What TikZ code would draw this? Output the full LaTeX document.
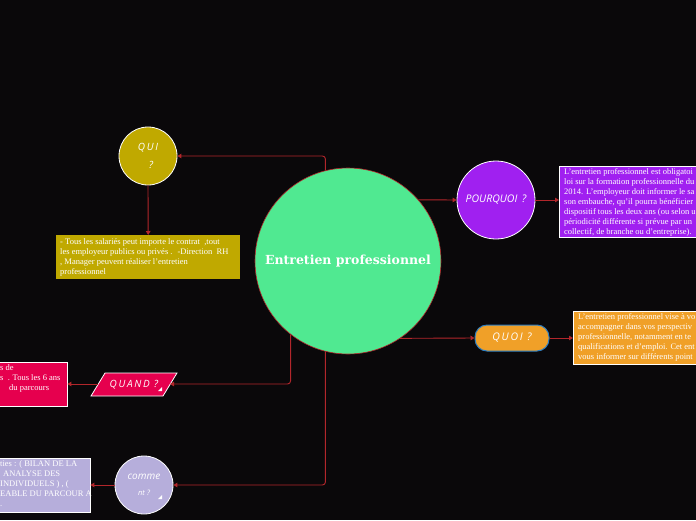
\documentclass[tikz,border=0pt]{standalone}
\usepackage{fontspec}
\setmainfont{Liberation Serif}
\newfontfamily\hand{Open Sans}
\newfontfamily\titlef{DejaVu Serif}
\usetikzlibrary{arrows.meta}
\definecolor{bg}{HTML}{0A080A}
\definecolor{linec}{HTML}{B2262B}
\definecolor{mint}{HTML}{50E991}
\definecolor{olive}{HTML}{C0A900}
\definecolor{violet}{HTML}{A020F0}
\definecolor{amber}{HTML}{F0A028}
\definecolor{crimson}{HTML}{E6004E}
\definecolor{lav}{HTML}{B6AEDB}
\definecolor{edgeblue}{HTML}{2C7CC0}
\begin{document}
\begin{tikzpicture}[x=1pt,y=-1pt,
  conn/.style={draw=linec, line width=0.9pt, rounded corners=3pt, -{Triangle[length=4pt,width=4.5pt]}},
  topic/.style={circle, draw=white, line width=0.8pt, inner sep=0pt, text=white, font=\hand\itshape\fontsize{10.5}{12}\selectfont, align=center},
  notebox/.style={rectangle, anchor=north west, inner sep=0pt},
  notetext/.style={anchor=north west, inner sep=0pt, text=white, align=left, font=\fontsize{8.5}{10}\selectfont}]
\useasboundingbox (0,0) rectangle (696,520);
\fill[bg] (0,0) rectangle (696,520);

% central node
\node[circle, fill=mint, draw=linec, line width=0.6pt, minimum size=186pt, inner sep=0pt,
      text=white, font=\titlef\bfseries\fontsize{12.5}{14}\selectfont] (center) at (348,261) {Entretien professionnel};

% topics
\node[topic, fill=olive, minimum size=58pt, font=\hand\itshape\fontsize{10}{18}\selectfont] (qui) at (148,156) {Q\,U\,I\\\hspace*{6pt}?};
\node[topic, fill=violet, minimum size=78pt] (pourquoi) at (496,200) {POURQUOI\, ?};
\node[rectangle, rounded corners=12pt, draw=edgeblue, line width=1pt, fill=amber, minimum width=74pt, minimum height=26pt,
      inner sep=0pt, text=white, font=\hand\itshape\fontsize{10.5}{12}\selectfont] (quoi) at (512,338) {Q\,U\,O\,I\, ?};
\node[topic, fill=lav, minimum size=58pt, font=\hand\itshape\fontsize{10}{16}\selectfont] (comme) at (144,485) {comme\\{\fontsize{7.5}{8}\selectfont nt ?}};
\fill[white] (158,499) -- (162,499) -- (162,495) -- cycle;

% QUAND parallelogram
\fill[crimson, draw=white, line width=0.8pt] (91,396) -- (105,373) -- (177,373) -- (163,396) -- cycle;
\node[inner sep=0pt, text=white, font=\hand\itshape\fontsize{10}{12}\selectfont] (quand) at (134,385) {Q\,U\,A\,N\,D\, ?};
\fill[white] (158,391) -- (162,391) -- (162,387) -- cycle;
\coordinate (quandR) at (170,384);
\coordinate (quandL) at (98,384);

% note boxes
\node[notebox, fill=olive, minimum width=184pt, minimum height=44pt] (quibox) at (56,235) {};
\node[notetext] at (60,238) {- Tous les salariés peut importe le contrat \ ,tout\\les employeur publics ou privés . \ -Direction \ RH\\, Manager peuvent réaliser l'entretien\\professionnel};

\node[notebox, fill=violet, draw=white, line width=0.4pt, minimum width=160pt, minimum height=71pt] (pqbox) at (559,166) {};
\node[notetext] at (564,168) {L'entretien professionnel est obligatoi\\loi sur la formation professionnelle du\\2014. L'employeur doit informer le sa\\son embauche, qu'il pourra bénéficier\\dispositif tous les deux ans (ou selon u\\périodicité différente si prévue par un\\collectif, de branche ou d'entreprise).};

\node[notebox, fill=amber, draw=white, line width=0.4pt, minimum width=140pt, minimum height=53pt] (quoibox) at (573,311) {};
\node[notetext] at (578,313) {L'entretien professionnel vise à vo\\accompagner dans vos perspectiv\\professionnelle, notamment en te\\qualifications et d'emploi. Cet ent\\vous informer sur différents point};

\node[notebox, fill=crimson, draw=white, line width=0.4pt, minimum width=87pt, minimum height=44pt] (quandbox) at (-20,362) {};
\node[notetext] at (0,364) {s de\\s \ . Tous les 6 ans\\\hspace*{9pt}du parcours};

\node[notebox, fill=lav, draw=white, line width=0.4pt, minimum width=110pt, minimum height=54pt] (commebox) at (-20,458) {};
\node[notetext] at (0,460) {ties : ( BILAN DE LA\\\hspace*{3pt}ANALYSE DES\\INDIVIDUELS ) , (\\EABLE DU PARCOUR A\\.};

% connectors
\draw[conn] (center.104.3) |- (qui.east);
\draw[conn] (qui.south) -- (quibox.north);
\draw[conn] (center.41) -- (pourquoi.west);
\draw[conn] (pourquoi.east) -- (pourquoi.east -| pqbox.west);
\draw[conn] (center.-56) -- (quoi.west);
\draw[conn] (quoi.east) -- (quoi.east -| quoibox.west);
\draw[conn] (center.-128.6) |- (quandR);
\draw[conn] (quandL) -- (quandL -| quandbox.east);
\draw[conn] (center.-104.3) |- (comme.east);
\draw[conn] (comme.west) -- (comme.west -| commebox.east);
\end{tikzpicture}
\end{document}
